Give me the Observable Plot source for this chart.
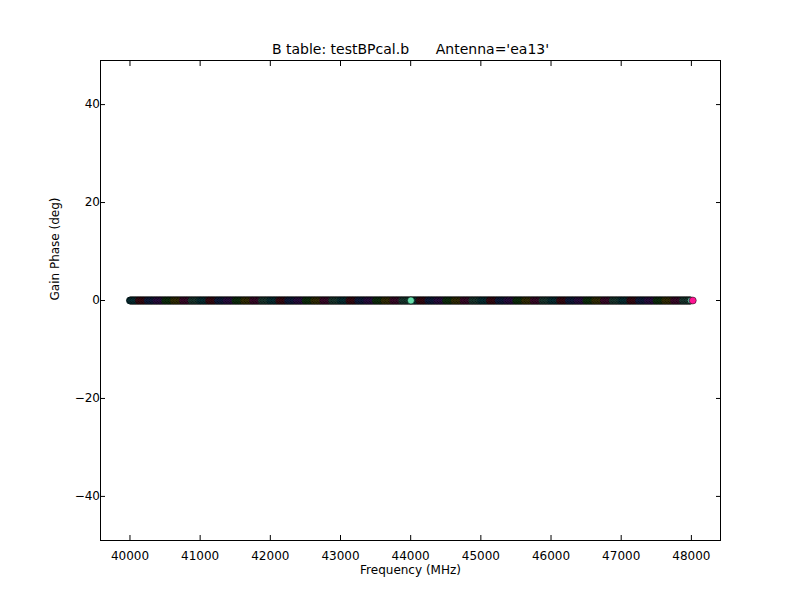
<!DOCTYPE html>
<html>
<head>
<meta charset="utf-8">
<script src="https://cdn.jsdelivr.net/npm/d3@7"></script>
<script src="https://cdn.jsdelivr.net/npm/@observablehq/plot@0.6"></script>
<style>
  html, body { margin: 0; padding: 0; background: #fff; }
</style>
</head>
<body>
<div id="chart"></div>
<script>
// Spectral window start frequencies (MHz)
const spwStart = [
  40000, 40125, 40250, 40375, 40500, 40625, 40750, 40875,
  41000, 41125, 41250, 41375, 41500, 41625, 41750, 41875,
  42000, 42125, 42250, 42375, 42500, 42625, 42750, 42875,
  43000, 43125, 43250, 43375, 43500, 43625, 43750, 43875,
  44000, 44125, 44250, 44375, 44500, 44625, 44750, 44875,
  45000, 45125, 45250, 45375, 45500, 45625, 45750, 45875,
  46000, 46125, 46250, 46375, 46500, 46625, 46750, 46875,
  47000, 47125, 47250, 47375, 47500, 47625, 47750, 47875
];
// Channel offsets within a spectral window (MHz)
const chanOffset = [0, 10, 21, 31, 42, 52, 62, 73, 83, 94, 104, 115];
// Gain phase of every channel (deg)
const phaseValue = 0;
// Colour cycle for spectral windows
const spwColors = ["#1a8a9a", "#a0203c", "#3050b0", "#7a2bc2", "#2a8a2a", "#9a8a10", "#b02080", "#50a890"];
// Highlighted points
const hiFreq = [44003, 48020];
const hiPhase = [0, 0];
const hiColors = ["#66ddaa", "#ff1493"];
const xTicks = [40000, 41000, 42000, 43000, 44000, 45000, 46000, 47000, 48000];
const yTicks = [-40, -20, 0, 20, 40];

const pts = [];
spwStart.forEach((f0, i) => {
  chanOffset.forEach(o => pts.push({f: f0 + o, p: phaseValue, c: spwColors[i % spwColors.length]}));
});
const hi = hiFreq.map((f, i) => ({f, p: hiPhase[i], c: hiColors[i]}));

const title = "B table: testBPcal.b\u00a0\u00a0\u00a0\u00a0\u00a0\u00a0Antenna='ea13'";

const chart = Plot.plot({
  width: 800,
  height: 600,
  marginLeft: 100,
  marginRight: 80,
  marginTop: 60,
  marginBottom: 60,
  style: {fontFamily: "DejaVu Sans", fontSize: "12px", color: "#000", background: "#fff"},
  x: {domain: [39580, 48415], ticks: xTicks, tickFormat: d => String(d)},
  y: {domain: [-49, 49], ticks: yTicks},
  color: {type: "identity"},
  marks: [
    Plot.axisX({anchor: "bottom", ticks: xTicks, tickSize: -5, tickPadding: 16, tickFormat: d => String(d), label: null, fontSize: 12}),
    Plot.axisX({anchor: "top", ticks: xTicks, tickSize: -5, tickFormat: () => "", label: null}),
    Plot.axisY({anchor: "left", ticks: yTicks, tickSize: -5, tickPadding: 5.5, label: null, fontSize: 12}),
    Plot.axisY({anchor: "right", ticks: yTicks, tickSize: -5, tickFormat: () => "", label: null}),
    Plot.dot(pts, {x: "f", y: "p", r: 3.5, fill: "c", stroke: "#000", strokeWidth: 0.8}),
    Plot.dot(hi, {x: "f", y: "p", r: 3.5, fill: "c", stroke: "#000", strokeWidth: 0.5}),
    Plot.frame({stroke: "#000", strokeWidth: 1}),
    Plot.text([title], {frameAnchor: "top", lineAnchor: "bottom", dy: -7, fontSize: 14, fill: "#000"}),
    Plot.text(["Frequency (MHz)"], {frameAnchor: "bottom", lineAnchor: "middle", dy: 30, fontSize: 12, fill: "#000"}),
    Plot.text(["Gain Phase (deg)"], {frameAnchor: "left", rotate: -90, dx: -45, fontSize: 12, fill: "#000"})
  ]
});
document.getElementById("chart").appendChild(chart);
</script>
</body>
</html>
